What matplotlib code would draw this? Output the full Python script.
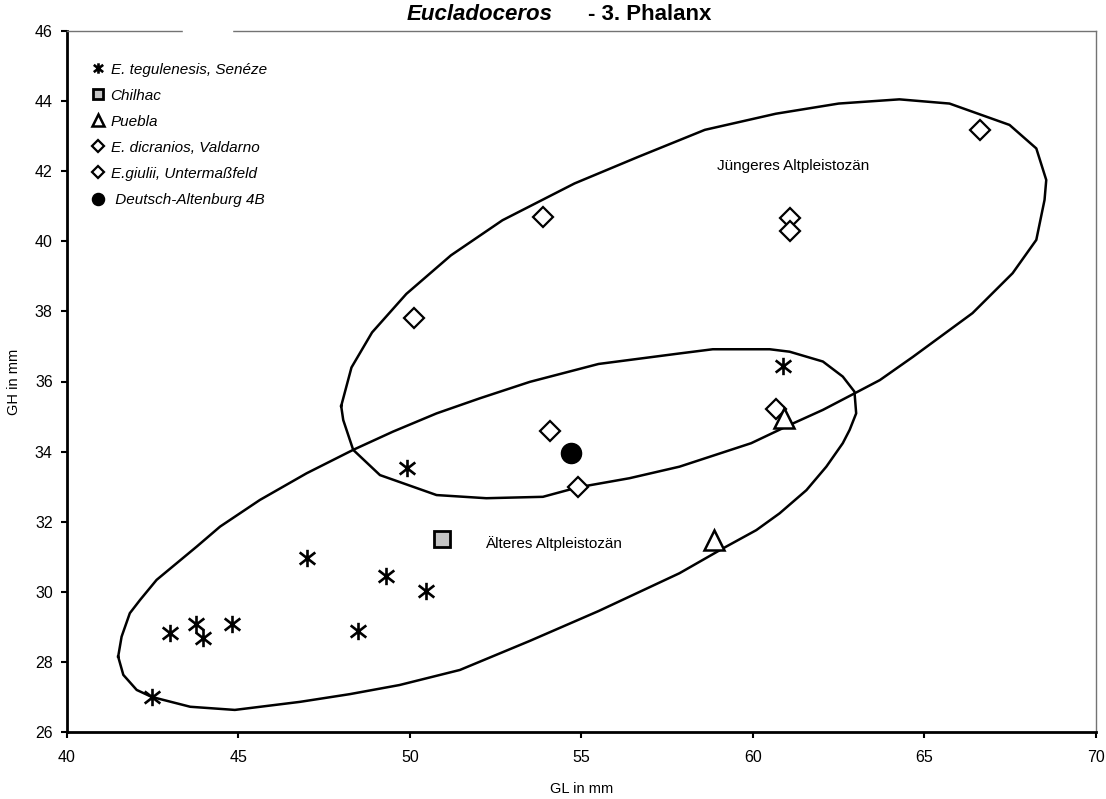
import numpy as np
import matplotlib
matplotlib.use('Agg')
import matplotlib.pyplot as plt
from matplotlib.path import Path
from matplotlib.patches import Rectangle

plt.rcParams['font.family'] = ['Liberation Sans', 'DejaVu Sans']

#%% data (GL, GH in mm)

teg_gl = [42.48, 43.01, 43.77, 43.98, 44.81, 48.48, 46.99, 49.30, 50.47, 49.92, 60.87]
teg_gh = [27.00, 28.82, 29.08, 28.67, 29.08, 28.88, 30.96, 30.44, 30.03, 33.52, 36.44]

chil_gl = [50.95]
chil_gh = [31.52]

pueb_gl = [60.90, 58.88]
pueb_gh = [34.95, 31.48]

vald_gl = [50.12, 54.08, 54.90, 60.66]
vald_gh = [37.82, 34.60, 32.98, 35.21]

unter_gl = [53.88, 61.07, 61.07, 66.63]
unter_gh = [40.70, 40.66, 40.30, 43.18]

da_gl = [54.71]
da_gh = [33.97]

# hand drawn outlines of the two groups
jung_gl = [48.0, 48.3, 48.9, 49.9, 51.2, 52.7, 54.8, 56.66, 58.6, 60.67, 62.5, 64.27,
           65.73, 67.48, 68.26, 68.55, 68.5, 68.26, 67.57, 66.4, 64.66, 63.7, 62.96,
           62.04, 61.07, 59.95, 57.86, 56.4, 54.9, 53.88, 52.23, 50.78, 49.13, 48.35,
           48.06, 48.0]
jung_gh = [35.3, 36.4, 37.4, 38.5, 39.6, 40.6, 41.65, 42.41, 43.18, 43.64, 43.93, 44.05,
           43.93, 43.32, 42.65, 41.75, 41.18, 40.04, 39.09, 37.95, 36.7, 36.04, 35.66,
           35.19, 34.76, 34.24, 33.57, 33.24, 32.98, 32.71, 32.67, 32.76, 33.33, 34.05,
           34.9, 35.3]

alt_gl = [41.5, 41.6, 41.84, 42.14, 42.62, 43.79, 44.47, 45.63, 46.99, 48.35, 49.51,
          50.78, 52.04, 53.5, 55.5, 57.86, 58.83, 60.49, 61.07, 62.04, 62.62, 62.96,
          63.01, 62.82, 62.62, 62.14, 61.56, 60.78, 60.1, 59.13, 57.86, 55.5, 53.5,
          51.46, 49.7, 48.25, 46.8, 44.9, 43.6, 42.48, 42.04, 41.65, 41.5]
alt_gh = [28.15, 28.72, 29.39, 29.77, 30.34, 31.29, 31.86, 32.62, 33.38, 34.05, 34.57,
          35.09, 35.52, 35.99, 36.5, 36.8, 36.92, 36.92, 36.85, 36.57, 36.14, 35.71,
          35.09, 34.62, 34.24, 33.57, 32.9, 32.24, 31.76, 31.24, 30.53, 29.45, 28.6,
          27.77, 27.34, 27.08, 26.86, 26.63, 26.72, 27.0, 27.2, 27.63, 28.15]

#%% excel-like star marker (vertical bar + x)
star = Path([(0, -1), (0, 1), (-0.9, -0.7), (0.9, 0.7), (-0.9, 0.7), (0.9, -0.7)],
            [Path.MOVETO, Path.LINETO, Path.MOVETO, Path.LINETO, Path.MOVETO, Path.LINETO])

W, H = 1106, 799
fig = plt.figure(figsize=(W / 100, H / 100), dpi=100, facecolor='white')
ax = fig.add_axes([66.7 / W, (H - 732) / H, 1029.3 / W, 701 / H])

ax.plot(jung_gl, jung_gh, color='black', lw=1.8, zorder=2)
ax.plot(alt_gl, alt_gh, color='black', lw=1.8, zorder=2)

ax.plot(teg_gl, teg_gh, ls='none', marker=star, ms=12.5, mew=1.9, color='black',
        label='E. tegulenesis, Senéze', zorder=3)
ax.plot(chil_gl, chil_gh, ls='none', marker='s', ms=12, mew=2, mfc='#c4c4c4', mec='black',
        label='Chilhac', zorder=3)
ax.plot(vald_gl, vald_gh, ls='none', marker='D', ms=10, mew=1.6, mfc='white', mec='black',
        label='E. dicranios, Valdarno', zorder=3)
ax.plot(unter_gl, unter_gh, ls='none', marker='D', ms=10, mew=1.6, mfc='white', mec='black',
        label='E.giulii, Untermaßfeld', zorder=3)
ax.plot(pueb_gl, pueb_gh, ls='none', marker='^', ms=14, mew=1.8, mfc='white', mec='black',
        label='Puebla', zorder=4)
ax.plot(da_gl, da_gh, ls='none', marker='o', ms=14.5, color='black',
        label=' Deutsch-Altenburg 4B', zorder=4)

ax.text(58.96, 42.15, 'Jüngeres Altpleistozän', fontsize=11, va='center', ha='left')
ax.text(52.19, 31.38, 'Älteres Altpleistozän', fontsize=11, va='center', ha='left')

# legend in the order of the original
h, l = ax.get_legend_handles_labels()
order = [0, 1, 4, 2, 3, 5]
leg = ax.legend([h[i] for i in order], [l[i] for i in order], loc='upper left',
                bbox_to_anchor=(0.024, 0.955), frameon=False, markerscale=0.6,
                handlelength=0.9, handletextpad=0.35, labelspacing=0.79,
                borderpad=0, borderaxespad=0, prop={'size': 11, 'style': 'italic'})

ax.set_xlim(40, 70)
ax.set_ylim(26, 46)
ax.set_xticks(np.arange(40, 71, 5))
ax.set_yticks(np.arange(26, 47, 2))
ax.tick_params(axis='x', direction='out', length=4, width=1.5, pad=9, labelsize=11.5)
ax.tick_params(axis='y', direction='out', length=4, width=1.5, pad=6, labelsize=11.5)

for s in ['left', 'bottom']:
    ax.spines[s].set_linewidth(2)
for s in ['top', 'right']:
    ax.spines[s].set_color('0.45')
    ax.spines[s].set_linestyle((0, (1, 1)))
    ax.spines[s].set_linewidth(1)

ax.set_xlabel('GL in mm', fontsize=10.5, labelpad=12)
ax.set_ylabel('GH in mm', fontsize=10.5, labelpad=10)

# title in two parts, like the original
fig.text(407 / W, 1 - 20 / H, 'Eucladoceros', fontsize=16, fontweight='bold',
         style='italic', ha='left', va='baseline')
fig.text(588 / W, 1 - 20 / H, '- 3. Phalanx', fontsize=16, fontweight='bold',
         ha='left', va='baseline')

# white gap in the top border
fig.add_artist(Rectangle((183 / W, (H - 35) / H), 49 / W, 8 / H, transform=fig.transFigure,
                         color='white', zorder=10))

fig.savefig('out.png', dpi=100)
